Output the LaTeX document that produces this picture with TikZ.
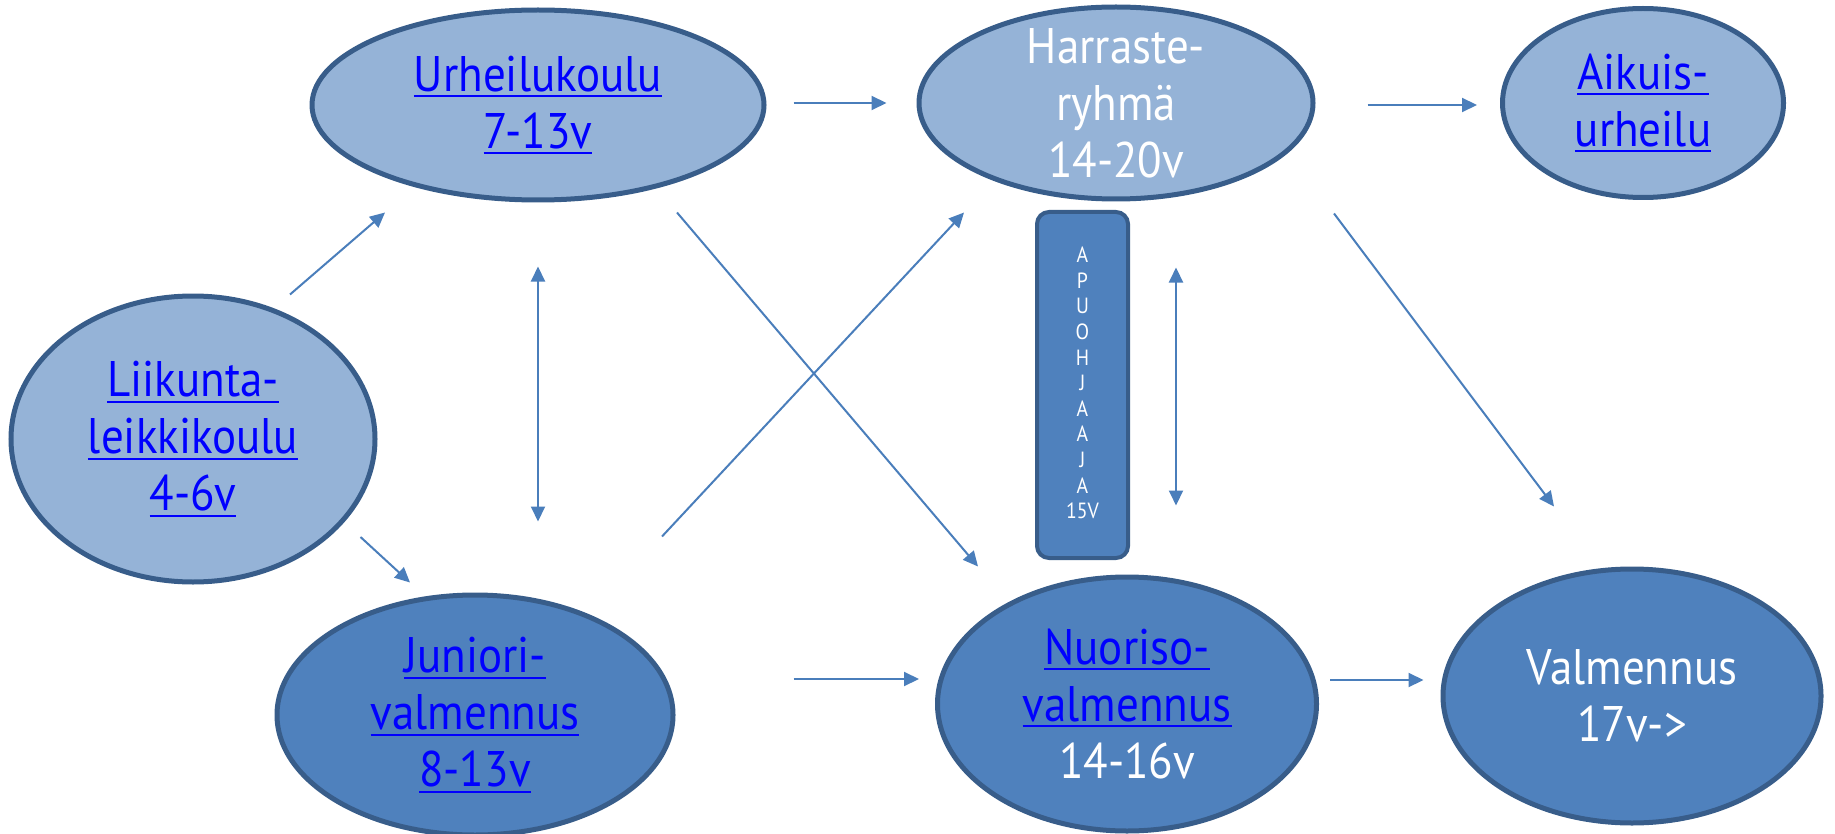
\documentclass[tikz,border=0pt]{standalone}
\usepackage{fontspec}
\setmainfont{PT Sans}[FakeStretch=0.9]
\usetikzlibrary{arrows.meta,shapes.geometric,calc}
\definecolor{lightfill}{HTML}{95B3D7}
\definecolor{darkfill}{HTML}{4F81BD}
\definecolor{edgec}{HTML}{385D8A}
\definecolor{arrowc}{HTML}{4A7EBB}
\definecolor{linkc}{HTML}{0000FF}
\newcommand\lnk[1]{{\setbox0=\hbox{#1}\rlap{\vrule height -0.08em depth 0.12em width \wd0}\box0}}
\begin{document}
\begin{tikzpicture}[x=1pt,y=-1pt,
  oval/.style={ellipse, draw=edgec, line width=5pt, inner sep=0pt},
  lightoval/.style={oval, fill=lightfill},
  darkoval/.style={oval, fill=darkfill},
  txt/.style={align=center, inner sep=0pt, font=\fontsize{50}{57}\selectfont},
  arr/.style={draw=arrowc, line width=2pt, -{Triangle[length=15pt,width=14pt]}},
  darr/.style={draw=arrowc, line width=2pt, {Triangle[length=15pt,width=14pt]}-{Triangle[length=15pt,width=14pt]}},
  apubox/.style={draw=edgec, fill=darkfill, line width=4pt, rounded corners=12pt},
  aputext/.style={text=white, align=center, inner sep=0pt, font=\fontsize{22}{25.6}\selectfont}
]
\useasboundingbox (0,0) rectangle (1835,834);
\node[lightoval, minimum width=452pt, minimum height=190pt,
  label={[txt, text=linkc]center:\lnk{Urheilukoulu}\\\lnk{7-13v}}] (u) at (538,105) {};
\node[lightoval, minimum width=394pt, minimum height=192pt,
  label={[txt, text=white]center:Harraste-\\ryhmä\\14-20v}] (h) at (1116,103) {};
\node[lightoval, minimum width=281pt, minimum height=189pt,
  label={[txt, text=linkc]center:\lnk{Aikuis-}\\\lnk{urheilu}}] (a) at (1643,103) {};
\node[lightoval, minimum width=364pt, minimum height=286pt,
  label={[txt, text=linkc]center:\lnk{Liikunta-}\\\lnk{leikkikoulu}\\\lnk{4-6v}}] (l) at (193,439) {};
\node[darkoval, minimum width=396pt, minimum height=240pt,
  label={[txt, text=linkc]center:\lnk{Juniori-}\\\lnk{valmennus}\\\lnk{8-13v}}] (j) at (475,715) {};
\node[darkoval, minimum width=379pt, minimum height=254pt,
  label={[txt]center:\textcolor{linkc}{\lnk{Nuoriso-}}\\\textcolor{linkc}{\lnk{valmennus}}\\\textcolor{white}{14-16v}}] (n) at (1127,704) {};
\node[darkoval, minimum width=378pt, minimum height=254pt,
  label={[txt, text=white]center:Valmennus\\17v->}] (v) at (1632,696) {};
\node[apubox, minimum width=91pt, minimum height=346pt] (ap) at (1082.5,385) {};
\node[aputext] (apt) at (1082.5,383) {A\\P\\U\\O\\H\\J\\A\\A\\J\\A\\15V};
% arrows
\draw[arr] ($(u.east)+(27,-2)$) -- ($(h.west)+(-30,0)$);
\draw[arr] ($(h.east)+(52,2)$) -- ($(a.west)+(-23,2)$);
\draw[arr] ($(l.north)+(97,1)$) -- ($(u.south)+(-153,10)$);
\draw[arr] ($(l.east)+(-17,98)$) -- ($(j.north)+(-65,-10)$);
\draw[arr] ($(j.east)+(118,-36)$) -- ($(n.west)+(-16,-25)$);
\draw[arr] ($(n.east)+(11,-24)$) -- ($(v.west)+(-17,-16)$);
\draw[arr] ($(h.south)+(218,12)$) -- ($(v.north)+(-78,-60)$);
\draw[arr] ($(u.south)+(139,10)$) -- ($(n.north)+(-149,-8)$);
\draw[arr] ($(j.north)+(187,-56)$) -- ($(h.south)+(-152,11)$);
\draw[darr] ($(u.south)+(0,64)$) -- ($(j.north)+(63,-71)$);
\draw[darr] ($(h.south)+(60,66)$) -- ($(n.north)+(49,-69)$);
\end{tikzpicture}
\end{document}
